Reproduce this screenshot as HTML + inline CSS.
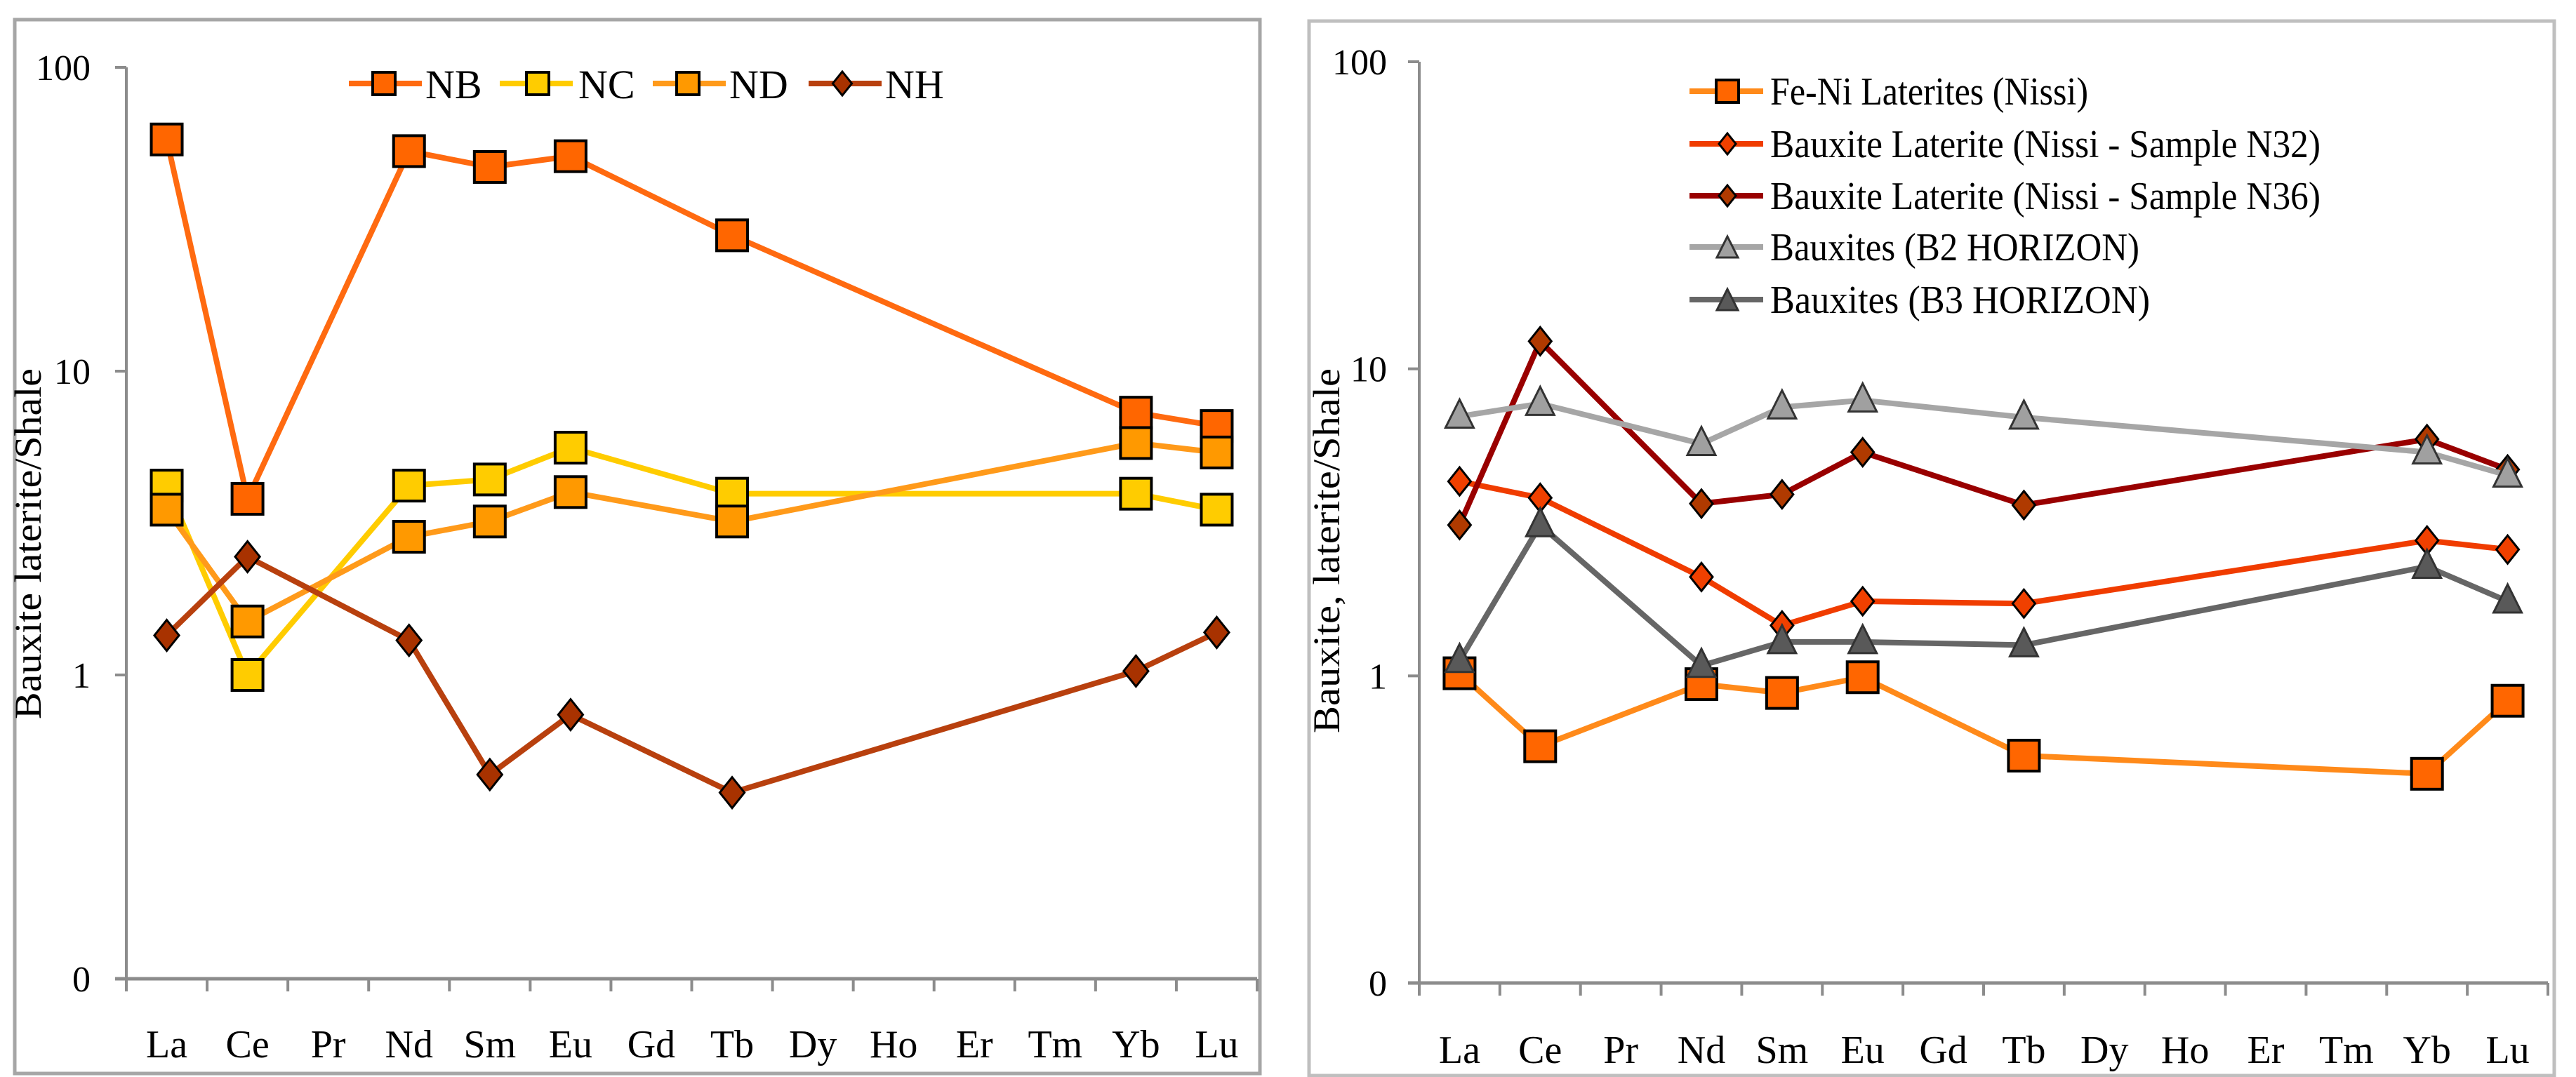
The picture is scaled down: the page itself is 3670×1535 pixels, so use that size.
<!DOCTYPE html>
<html><head><meta charset="utf-8"><style>
html,body{margin:0;padding:0;background:#fff;}
svg{display:block;}
text{font-family:"Liberation Serif",serif;fill:#000;}
</style></head><body>
<svg id="c" width="3670" height="1535" viewBox="0 0 3670 1535" xmlns="http://www.w3.org/2000/svg">
<rect x="21" y="28" width="1774" height="1502" fill="#fff" stroke="#a6a6a6" stroke-width="5"/>
<rect x="1865" y="30" width="1774" height="1503" fill="#fff" stroke="#bfbfbf" stroke-width="5"/>
</svg>
<script>
const categories = ["La","Ce","Pr","Nd","Sm","Eu","Gd","Tb","Dy","Ho","Er","Tm","Yb","Lu"];
const yTicks = [0.1, 1, 10, 100];
const yTickLabels = ["0","1","10","100"];
// Left chart series (null = no value)
const nbValues = [57.9,3.8,null,53,47,51,null,28,null,null,null,null,7.3,6.6];
const ncValues = [4.2,1.0,null,4.2,4.4,5.6,null,3.95,null,null,null,null,3.95,3.5];
const ndValues = [3.5,1.5,null,2.85,3.2,4.0,null,3.2,null,null,null,null,5.8,5.4];
const nhValues = [1.35,2.45,null,1.3,0.47,0.74,null,0.41,null,null,null,null,1.03,1.38];
const leftNames = ["NB","NC","ND","NH"];
// Right chart series
const feniValues = [1.02,0.59,null,0.94,0.88,0.99,null,0.55,null,null,null,null,0.48,0.83];
const n32Values = [4.3,3.8,null,2.1,1.46,1.75,null,1.72,null,null,null,null,2.76,2.58];
const n36Values = [3.1,12.3,null,3.64,3.9,5.35,null,3.6,null,null,null,null,5.9,4.7];
const b2Values = [7.0,7.7,null,5.7,7.5,7.9,null,6.95,null,null,null,null,5.35,4.5];
const b3Values = [1.12,3.1,null,1.08,1.29,1.29,null,1.26,null,null,null,null,2.27,1.75];
const rightNames = ["Fe-Ni Laterites (Nissi)","Bauxite Laterite (Nissi  -  Sample N32)","Bauxite Laterite (Nissi  -  Sample N36)","Bauxites (B2 HORIZON)","Bauxites (B3  HORIZON)"];

const NS="http://www.w3.org/2000/svg";
const svg=document.getElementById('c');
function mk(tag,attrs,parent){const e=document.createElementNS(NS,tag);for(const k in attrs)e.setAttribute(k,attrs[k]);(parent||svg).appendChild(e);return e;}

function marker(g,shape,cx,cy,size,fill){
  let e;
  if(shape==='square'){e=mk('rect',{x:cx-size/2,y:cy-size/2,width:size,height:size,fill:fill,stroke:'#000','stroke-width':4},g);}
  else if(shape==='diamond'){const s=size/2;e=mk('polygon',{points:`${cx},${cy-s} ${cx+s*0.8},${cy} ${cx},${cy+s} ${cx-s*0.8},${cy}`,fill:fill,stroke:'#000','stroke-width':3},g);}
  else {const s=size/2;e=mk('polygon',{points:`${cx},${cy-s-4} ${cx+s},${cy+s-4} ${cx-s},${cy+s-4}`,fill:fill,stroke:'#333','stroke-width':3},g);}
  return e;
}

function drawChart(opt){
  const x0=opt.axisX, x1=opt.axisEnd, yTop=opt.yTop, yBot=opt.yBot;
  const step=(x1-x0)/categories.length;
  const xs=i=>x0+step*(i+0.5);
  const ys=v=>yBot-(Math.log10(v)+1)/3*(yBot-yTop);
  const ax=mk('g',{},svg);
  
  
  mk('line',{x1:x0,y1:yTop,x2:x0,y2:yBot+16,stroke:'#8c8c8c','stroke-width':4},ax);
  mk('line',{x1:x0-16,y1:yBot,x2:x1,y2:yBot,stroke:'#8c8c8c','stroke-width':5},ax);
  yTicks.forEach((t,i)=>{
    const y=ys(t);
    mk('line',{x1:x0-16,y1:y,x2:x0,y2:y,stroke:'#8c8c8c','stroke-width':4},ax);
    const tx=mk('text',{x:opt.yLabelRight,y:y+18,'font-size':52,'text-anchor':'end'},ax);
    tx.textContent=yTickLabels[i];
    
    
  });
  for(let i=0;i<=categories.length;i++){
    const x=x0+step*i;
    mk('line',{x1:x,y1:yBot,x2:x,y2:yBot+18,stroke:'#8c8c8c','stroke-width':4},ax);
  }
  categories.forEach((c,i)=>{
    const tx=mk('text',{x:xs(i),y:opt.xLabelY,'font-size':56,'text-anchor':'middle'},ax);
    tx.textContent=c;
    
    
  });
  const tt=mk('text',{x:0,y:0,'font-size':54,'text-anchor':'middle',transform:`translate(${opt.titleX},${opt.titleY}) rotate(-90)`,textLength:opt.titleLen,lengthAdjust:'spacingAndGlyphs'},svg);
  tt.textContent=opt.title;
  
  

  opt.series.forEach((s,si)=>{
    const g=mk('g',{},svg);
    
    
    const pts=[];
    s.values.forEach((v,i)=>{if(v!=null)pts.push([xs(i),ys(v)]);});
    mk('polyline',{points:pts.map(p=>p.join(',')).join(' '),fill:'none',stroke:s.line,'stroke-width':8,'stroke-linejoin':'round'},g);
    pts.forEach(p=>{
      const m=marker(g,s.shape,p[0],p[1],s.size,s.fill);
      
      
    });
  });
}

drawChart({prefix:'left',axisX:180,axisEnd:1791,yTop:96,yBot:1395,yLabelRight:129,xLabelY:1507,titleX:58,titleY:775,titleLen:500,title:'Bauxite laterite/Shale',
  series:[
    {id:'nb',values:nbValues,line:'#ff6a10',fill:'#ff6600',shape:'square',size:44},
    {id:'nc',values:ncValues,line:'#ffcc00',fill:'#ffcc00',shape:'square',size:44},
    {id:'nd',values:ndValues,line:'#ff9a1a',fill:'#ff9900',shape:'square',size:44},
    {id:'nh',values:nhValues,line:'#b8400e',fill:'#a83200',shape:'diamond',size:44}
  ]});
drawChart({prefix:'right',axisX:2022,axisEnd:3630,yTop:88,yBot:1401,yLabelRight:1976,xLabelY:1515,titleX:1908,titleY:785,titleLen:520,title:'Bauxite, laterite/Shale',
  series:[
    {id:'feni',values:feniValues,line:'#ff8a1a',fill:'#ff6600',shape:'square',size:44},
    {id:'n32',values:n32Values,line:'#f03c00',fill:'#f04000',shape:'diamond',size:40},
    {id:'n36',values:n36Values,line:'#990000',fill:'#b03a00',shape:'diamond',size:40},
    {id:'b2',values:b2Values,line:'#a6a6a6',fill:'#a0a0a0',shape:'triangle',size:40},
    {id:'b3',values:b3Values,line:'#666666',fill:'#595959',shape:'triangle',size:40}
  ]});

// Left legend
const leftLeg=[{x:497,m:547,t:606,line:'#ff6a10',fill:'#ff6600',shape:'square'},{x:712,m:766,t:824,line:'#ffcc00',fill:'#ffcc00',shape:'square'},{x:930,m:980,t:1039,line:'#ff9a1a',fill:'#ff9900',shape:'square'},{x:1152,m:1200,t:1261,line:'#b8400e',fill:'#a83200',shape:'diamond'}];
leftLeg.forEach((l,i)=>{
  const g=mk('g',{},svg);
  
  
  mk('line',{x1:l.x,y1:119,x2:l.x+104,y2:119,stroke:l.line,'stroke-width':8},g);
  marker(g,l.shape,l.m,119,l.shape==='square'?32:34,l.fill);
  const t=mk('text',{x:l.t,y:140,'font-size':58},g);
  t.textContent=leftNames[i];
});
// Right legend
const rightLeg=[{y:130,line:'#ff8a1a',fill:'#ff6600',shape:'square',w:453},{y:205,line:'#f03c00',fill:'#f04000',shape:'diamond',w:784},{y:279,line:'#990000',fill:'#b03a00',shape:'diamond',w:784},{y:352,line:'#a6a6a6',fill:'#a0a0a0',shape:'triangle',w:526},{y:427,line:'#666666',fill:'#595959',shape:'triangle',w:541}];
rightLeg.forEach((l,i)=>{
  const g=mk('g',{},svg);
  
  
  mk('line',{x1:2407,y1:l.y,x2:2512,y2:l.y,stroke:l.line,'stroke-width':8},g);
  marker(g,l.shape,2461,l.y+(l.shape==='triangle'?4:0),l.shape==='square'?32:30,l.fill);
  const t=mk('text',{x:2522,y:l.y+19,'font-size':56,textLength:l.w,lengthAdjust:'spacingAndGlyphs'},g);
  t.textContent=rightNames[i];
});
</script>
</body></html>
